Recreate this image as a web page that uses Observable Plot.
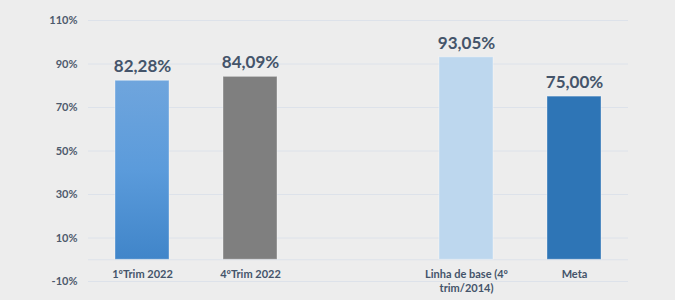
<!DOCTYPE html>
<html>
<head>
<meta charset="utf-8">
<script src="https://cdn.jsdelivr.net/npm/d3@7"></script>
<script src="https://cdn.jsdelivr.net/npm/@observablehq/plot@0.6"></script>
<style>
  html, body { margin: 0; padding: 0; background: #ededed; }
  #chart svg { display: block; }
</style>
</head>
<body>
<div id="chart"></div>
<script>
const categories = ["1ºTrim 2022", "4ºTrim 2022", "Linha de base (4º\ntrim/2014)", "Meta"];
const values = [82.28, 84.09, 93.05, 75.00];
const labels = ["82,28%", "84,09%", "93,05%", "75,00%"];
const colors = ["url(#grad1)", "#7f7f7f", "#bdd7ee", "#2e75b6"];
const yTicks = [-10, 10, 30, 50, 70, 90, 110];
const gapKey = "gap";

const data = categories.map((c, i) => ({cat: c, value: values[i], label: labels[i], color: colors[i]}));
const domain = [categories[0], categories[1], gapKey, categories[2], categories[3]];

const chart = Plot.plot({
  width: 675,
  height: 300,
  marginTop: 20,
  marginBottom: 19,
  marginLeft: 88,
  marginRight: 47,
  style: {background: "#ededed", fontFamily: "Lato, 'Open Sans', sans-serif"},
  x: {domain, paddingInner: 0.5, paddingOuter: 0.25, axis: null},
  y: {domain: [-10, 110], axis: null},
  marks: [
    Plot.ruleY(yTicks.concat([0]), {stroke: "#dde2ea", strokeWidth: 1}),
    Plot.text(yTicks, {x: null, y: d => d, text: d => d + "%", frameAnchor: "left", textAnchor: "end", dx: -11,
      fill: "#4d5a6c", fontSize: 11, fontWeight: "bold"}),
    Plot.barY(data, {x: "cat", y: "value", fill: d => d.color, stroke: "#ffffff", strokeOpacity: 0.35, strokeWidth: 1}),
    Plot.text(data, {x: "cat", y: "value", text: "label", dy: -14, fill: "#44546a", fontSize: 17, fontWeight: "bold"}),
    Plot.text(data, {x: "cat", y: () => 0, text: "cat", dy: 8, lineAnchor: "top", lineHeight: 1.3,
      fill: "#44546a", fontSize: 11, fontWeight: "bold"})
  ]
});

const svg = d3.select(chart);
const defs = svg.insert("defs", ":first-child");
const g = defs.append("linearGradient").attr("id", "grad1").attr("x1", 0).attr("y1", 0).attr("x2", 0).attr("y2", 1);
g.append("stop").attr("offset", "0%").attr("stop-color", "#6fa5dd");
g.append("stop").attr("offset", "50%").attr("stop-color", "#5b9bdb");
g.append("stop").attr("offset", "100%").attr("stop-color", "#4085c9");

document.getElementById("chart").appendChild(chart);
</script>
</body>
</html>
